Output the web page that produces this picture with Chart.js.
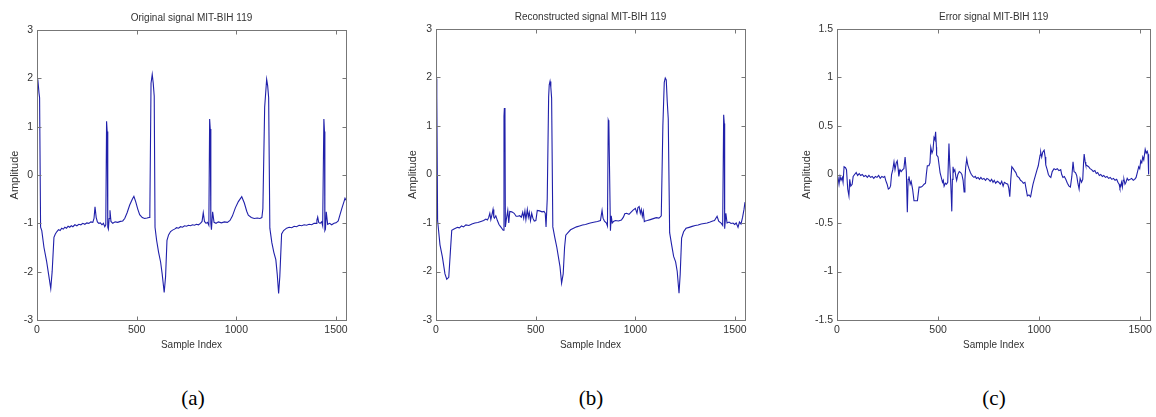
<!DOCTYPE html>
<html>
<head>
<meta charset="utf-8">
<script src="https://cdn.jsdelivr.net/npm/chart.js@4/dist/chart.umd.min.js"></script>
<style>
  html, body { margin: 0; padding: 0; background: #fff; }
  body { width: 1156px; height: 417px; position: relative; overflow: hidden; }
  canvas { position: absolute; top: 0; }
  .cap { position: absolute; top: 386px; font-family: "Liberation Serif", "Times New Roman", serif; font-size: 21px; color: #000; transform: translateX(-50%); }
</style>
</head>
<body>
<canvas id="ca" width="362" height="360" style="left:0px"></canvas>
<canvas id="cb" width="362" height="360" style="left:398px"></canvas>
<canvas id="cc" width="364" height="360" style="left:792px"></canvas>
<div class="cap" style="left:193px">(a)</div>
<div class="cap" style="left:591px">(b)</div>
<div class="cap" style="left:994px">(c)</div>
<script>
// ---------- data ----------
const sampleTicks = [0, 500, 1000, 1500];
const ampTicksAB = [-3, -2, -1, 0, 1, 2, 3];
const ampTicksC = [-1.5, -1, -0.5, 0, 0.5, 1, 1.5];
const titles = ["Original signal MIT-BIH 119", "Reconstructed signal MIT-BIH 119", "Error signal MIT-BIH 119"];

const originalX = [0,4,10,13,18,24,35,48,58,69,76,85,92,100,108,116,124,132,140,148,156,164,172,180,190,200,210,220,230,240,250,260,270,280,286,291,297,303,310,318,326,333,340,345,349,352,355,358,362,366,371,380,392,405,418,430,440,452,465,478,486,495,505,515,528,540,552,562,566,572,578,583,588,592,600,610,620,628,638,645,652,660,670,680,690,700,710,720,730,740,750,760,770,780,790,800,810,820,828,834,840,848,855,862,866,869,872,875,881,888,898,910,925,940,955,968,980,995,1010,1027,1040,1052,1060,1075,1090,1105,1118,1128,1133,1142,1152,1157,1162,1168,1178,1188,1198,1205,1212,1218,1227,1237,1252,1265,1278,1290,1302,1315,1328,1340,1352,1365,1378,1390,1400,1404,1408,1413,1420,1428,1433,1439,1442,1444,1447,1451,1458,1468,1478,1490,1500,1511,1520,1530,1540,1545,1550];
const originalY = [1.94,1.98,1.7,1.6,-1.08,-1.15,-1.5,-1.78,-2.05,-2.35,-2.0,-1.29,-1.22,-1.17,-1.13,-1.15,-1.1,-1.12,-1.08,-1.1,-1.06,-1.08,-1.05,-1.07,-1.03,-1.05,-1.02,-1.03,-1.0,-1.02,-0.99,-1.0,-0.97,-0.98,-0.9,-0.66,-0.88,-0.97,-1.0,-0.99,-1.03,-1.0,-1.07,-1.03,1.11,0.9,-1.08,-1.12,-0.9,-0.73,-0.96,-1.0,-0.97,-0.98,-0.96,-0.95,-0.9,-0.78,-0.62,-0.5,-0.44,-0.55,-0.7,-0.82,-0.88,-0.9,-0.89,-0.88,-0.8,1.9,2.08,1.9,1.63,-1.08,-1.35,-1.6,-1.8,-2.05,-2.43,-2.1,-1.35,-1.24,-1.17,-1.14,-1.12,-1.09,-1.1,-1.07,-1.08,-1.05,-1.06,-1.04,-1.05,-1.03,-1.04,-1.02,-1.03,-1.0,-0.96,-0.78,-0.96,-1.0,-0.98,-1.04,1.16,0.95,-1.0,-1.13,-0.76,-0.98,-1.0,-0.97,-0.99,-0.97,-0.98,-0.94,-0.85,-0.68,-0.55,-0.45,-0.58,-0.75,-0.83,-0.88,-0.9,-0.89,-0.9,-0.88,-0.7,1.4,1.98,1.85,1.6,-1.1,-1.4,-1.6,-1.75,-2.05,-2.45,-2.1,-1.22,-1.15,-1.1,-1.08,-1.09,-1.06,-1.07,-1.04,-1.05,-1.03,-1.04,-1.02,-1.03,-1.0,-1.0,-0.93,-0.87,-0.98,-1.0,-0.97,-1.05,1.16,0.9,-1.15,-1.12,-0.76,-1.02,-1.0,-1.03,-1.0,-0.99,-0.95,-0.82,-0.68,-0.55,-0.48,-0.52];

const reconstructedX = [0,3,5,8,20,32,45,54,64,72,79,88,98,108,118,128,138,150,165,180,195,210,225,239,250,258,264,270,275,281,286,290,293,300,308,316,323,337,341,343,346,348,353,360,365,370,380,392,402,411,420,428,435,440,446,451,458,463,468,474,480,486,493,501,508,520,532,542,548,552,558,565,568,572,576,580,586,596,606,616,622,630,638,645,651,662,675,690,705,720,735,750,765,774,785,797,810,825,833,838,845,855,860,864,867,875,879,884,890,900,915,930,940,947,956,968,980,990,1000,1008,1013,1019,1025,1030,1035,1040,1045,1050,1060,1075,1090,1105,1118,1124,1130,1138,1145,1150,1155,1160,1165,1172,1182,1192,1202,1210,1219,1225,1232,1242,1254,1270,1285,1300,1315,1330,1345,1360,1375,1388,1397,1410,1418,1430,1438,1443,1446,1448,1454,1460,1470,1480,1490,1498,1506,1515,1522,1530,1538,1545,1550];
const reconstructedY = [1.98,1.93,1.62,-0.95,-1.45,-1.7,-2.05,-2.16,-2.12,-1.6,-1.15,-1.13,-1.11,-1.09,-1.1,-1.06,-1.08,-1.04,-1.05,-1.02,-1.0,-0.99,-0.97,-0.95,-0.92,-0.94,-0.89,-0.8,-0.93,-0.82,-0.72,-0.88,-0.9,-0.85,-0.95,-1.03,-1.07,-1.15,1.2,1.37,1.2,-1.08,-0.92,-0.74,-1.0,-0.76,-0.77,-0.8,-0.86,-0.86,-0.85,-0.88,-0.78,-0.9,-0.75,-0.93,-0.72,-0.88,-0.78,-0.95,-0.8,-0.9,-0.96,-0.95,-0.74,-0.75,-0.77,-0.76,-0.8,-1.08,-0.5,1.6,1.85,1.92,1.8,1.57,-1.08,-1.3,-1.5,-1.75,-1.9,-2.24,-2.05,-1.5,-1.25,-1.2,-1.14,-1.11,-1.08,-1.06,-1.04,-1.03,-1.01,-1.0,-0.99,-0.98,-0.97,-0.95,-0.74,-0.9,-0.96,-1.0,-1.06,1.12,1.08,-1.16,-0.85,-1.0,-0.97,-0.95,-0.96,-0.94,-0.88,-0.81,-0.8,-0.82,-0.77,-0.73,-0.7,-0.8,-0.68,-0.66,-0.8,-0.72,-0.86,-0.76,-0.97,-0.96,-0.95,-0.93,-0.91,-0.89,-0.9,-0.88,-0.85,1.0,1.9,1.99,1.95,1.5,1.15,-1.2,-1.45,-1.69,-1.8,-2.0,-2.45,-2.05,-1.31,-1.18,-1.11,-1.09,-1.07,-1.05,-1.04,-1.02,-1.01,-1.0,-0.98,-0.96,-0.95,-0.86,-0.96,-1.0,-1.05,1.23,1.05,-1.12,-0.8,-1.0,-0.98,-1.01,-1.0,-1.03,-1.0,-1.09,-0.98,-1.02,-0.88,-0.72,-0.57];

const errorX = [0,5,10,15,20,26,30,35,42,47,53,59,63,68,75,80,87,95,102,110,117,125,133,142,150,158,166,174,182,190,198,206,214,222,230,236,241,248,254,260,265,270,276,282,287,293,298,303,306,312,318,325,331,337,343,348,352,356,362,367,374,381,390,398,402,406,415,423,431,438,442,447,455,460,464,470,475,480,484,488,492,493,500,505,510,516,522,526,530,536,542,548,554,558,562,565,568,571,574,578,583,588,592,598,605,612,618,624,629,633,637,642,647,653,660,665,672,678,684,690,698,705,712,719,727,735,742,750,758,765,772,778,785,793,800,808,815,822,828,835,845,850,855,860,865,872,878,885,892,900,908,915,922,930,936,942,950,958,965,970,975,982,990,996,1000,1005,1008,1013,1018,1025,1030,1033,1040,1046,1052,1058,1065,1074,1082,1090,1098,1107,1112,1118,1125,1132,1140,1148,1155,1162,1168,1173,1180,1186,1192,1198,1203,1210,1216,1220,1223,1228,1231,1238,1245,1252,1260,1268,1276,1283,1290,1298,1305,1313,1320,1328,1336,1344,1352,1360,1368,1376,1384,1390,1396,1400,1404,1408,1412,1416,1420,1425,1430,1436,1442,1450,1458,1466,1473,1480,1486,1493,1498,1503,1508,1513,1518,1525,1530,1535,1539,1542];
const errorY = [0.0,-0.03,-0.1,-0.02,-0.06,-0.03,-0.08,0.08,0.07,0.05,-0.15,-0.22,-0.05,-0.12,-0.1,-0.02,0.0,0.02,-0.01,0.01,-0.01,0.0,-0.02,-0.01,-0.03,-0.01,-0.03,-0.02,-0.04,-0.02,-0.03,-0.01,-0.04,-0.02,-0.03,-0.02,-0.06,-0.1,-0.15,-0.14,-0.12,0.0,0.05,0.13,0.05,0.12,0.14,0.05,-0.02,0.05,0.03,0.05,0.06,0.18,0.03,-0.39,-0.05,-0.02,-0.1,-0.07,-0.15,-0.27,-0.27,-0.27,-0.2,-0.13,-0.13,-0.12,-0.1,-0.09,0.0,0.09,0.09,0.12,0.28,0.22,0.25,0.38,0.36,0.44,0.28,0.2,0.18,0.1,0.02,-0.03,-0.08,-0.06,-0.12,-0.09,-0.1,-0.08,0.32,0.1,-0.05,-0.2,-0.38,-0.05,0.08,0.03,0.05,-0.02,-0.06,0.0,0.03,0.02,0.0,-0.06,-0.18,-0.05,0.08,0.16,0.1,0.06,0.02,0.0,-0.02,-0.03,-0.02,-0.04,-0.03,-0.05,-0.03,-0.05,-0.04,-0.06,-0.04,-0.05,-0.07,-0.05,-0.08,-0.06,-0.09,-0.07,-0.08,-0.1,-0.07,-0.12,-0.08,-0.09,-0.1,-0.14,-0.23,-0.05,0.08,0.06,0.04,0.02,-0.02,-0.03,-0.06,-0.07,-0.09,-0.08,-0.15,-0.22,-0.21,-0.23,-0.15,-0.1,-0.06,-0.01,0.05,0.09,0.14,0.2,0.23,0.18,0.23,0.25,0.18,0.1,0.05,0.0,-0.02,-0.03,0.03,0.06,0.05,0.06,0.04,0.05,0.0,-0.03,-0.02,-0.05,-0.09,-0.12,-0.13,-0.02,0.13,0.03,0.02,-0.01,-0.09,-0.15,-0.04,-0.08,-0.05,0.12,0.21,0.13,0.1,0.09,0.08,0.06,0.05,0.03,0.04,0.01,0.02,-0.01,0.0,-0.02,-0.01,-0.03,-0.02,-0.04,-0.03,-0.05,-0.04,-0.06,-0.05,-0.08,-0.1,-0.14,-0.12,-0.08,-0.13,-0.06,-0.05,-0.1,-0.08,-0.04,-0.06,-0.05,-0.04,-0.06,-0.05,-0.03,0.02,0.08,0.06,0.14,0.12,0.18,0.15,0.26,0.22,0.24,0.21,0.0];

// ---------- rendering ----------
const sans = '"Liberation Sans", Arial, sans-serif';
Chart.defaults.font.family = sans;
Chart.defaults.font.size = 10;
Chart.defaults.color = '#333';

const boxPlugin = {
  id: 'matlabBox',
  afterDraw(chart) {
    const { ctx, chartArea: a, scales: { x, y } } = chart;
    ctx.save();
    ctx.strokeStyle = '#777';
    ctx.lineWidth = 1;
    const L = Math.round(a.left) + 0.5, R = Math.round(a.right) + 0.5;
    const T = Math.round(a.top) + 0.5, B = Math.round(a.bottom) + 0.5;
    ctx.strokeRect(L, T, R - L, B - T);
    ctx.beginPath();
    x.ticks.forEach(t => {
      const p = Math.round(x.getPixelForValue(t.value)) + 0.5;
      ctx.moveTo(p, B); ctx.lineTo(p, B - 4);
      ctx.moveTo(p, T); ctx.lineTo(p, T + 4);
    });
    y.ticks.forEach(t => {
      const p = Math.round(y.getPixelForValue(t.value)) + 0.5;
      ctx.moveTo(L, p); ctx.lineTo(L + 4, p);
      ctx.moveTo(R, p); ctx.lineTo(R - 4, p);
    });
    ctx.stroke();
    ctx.restore();
  }
};

function makeChart(id, xs, ys, title, yTicks, yWidth, padRight, titleTop) {
  const pts = xs.map((v, i) => ({ x: v, y: ys[i] }));
  return new Chart(document.getElementById(id), {
    type: 'line',
    data: { datasets: [{ data: pts, borderColor: 'rgb(32,32,170)', borderWidth: 1.1, pointRadius: 0, tension: 0, fill: false }] },
    options: {
      responsive: false,
      animation: false,
      devicePixelRatio: 1,
      events: [],
      layout: { padding: { left: 0, right: padRight, top: 0, bottom: 0 } },
      plugins: {
        legend: { display: false },
        tooltip: { enabled: false },
        title: {
          display: true, text: title, fullSize: false,
          font: { family: sans, size: 10, weight: 'normal' }, color: '#333',
          padding: { top: titleTop, bottom: 6 }
        }
      },
      scales: {
        x: {
          type: 'linear', min: 0, max: 1550,
          grid: { display: false, drawTicks: false },
          border: { display: false },
          afterBuildTicks: s => { s.ticks = sampleTicks.map(v => ({ value: v })); },
          afterFit: s => { s.height = 40; },
          ticks: { padding: 4, maxRotation: 0, callback: v => String(v), font: { family: sans, size: 10.5 } },
          title: { display: true, text: 'Sample Index', font: { family: sans, size: 10 }, padding: { top: 0, bottom: 9 } }
        },
        y: {
          type: 'linear', min: yTicks[0], max: yTicks[yTicks.length - 1],
          grid: { display: false, drawTicks: false },
          border: { display: false },
          afterBuildTicks: s => { s.ticks = yTicks.map(v => ({ value: v })); },
          afterFit: s => { s.width = yWidth; },
          ticks: { padding: 4, callback: v => String(v), font: { family: sans, size: 10.5 } },
          title: { display: true, text: 'Amplitude', font: { family: sans, size: 11 }, padding: { top: 8, bottom: 0 } }
        }
      }
    },
    plugins: [boxPlugin]
  });
}

makeChart('ca', originalX, originalY, titles[0], ampTicksAB, 37, 16, 12);
makeChart('cb', reconstructedX, reconstructedY, titles[1], ampTicksAB, 38, 15, 11);
makeChart('cc', errorX, errorY, titles[2], ampTicksC, 45, 5, 11);
</script>
</body>
</html>
